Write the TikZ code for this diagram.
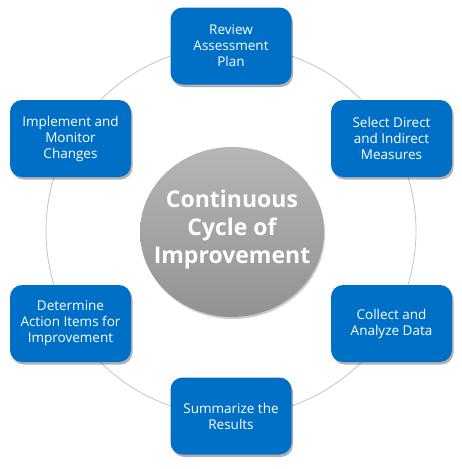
\documentclass[tikz,border=0pt]{standalone}
\usepackage{fontspec}
\setmainfont{Open Sans}
\usetikzlibrary{shadows}

\definecolor{kasten}{RGB}{0,112,198}
\definecolor{mitteoben}{RGB}{182,182,182}
\definecolor{mitteunten}{RGB}{146,146,146}
\definecolor{ring}{RGB}{196,196,196}

\begin{document}
\begin{tikzpicture}[x=1pt, y=-1pt, thin]

\tikzset{
schritt/.style={fill=kasten, rounded corners=12pt, minimum width=121pt, minimum height=77pt,
  text=white, align=center, inner sep=2pt, font=\fontsize{13.5}{16}\selectfont,
  drop shadow={shadow xshift=1.5pt, shadow yshift=-2.5pt, fill=black, opacity=0.3}},
kreis/.style={top color=mitteoben, bottom color=mitteunten,
  drop shadow={shadow xshift=1pt, shadow yshift=-2pt, fill=black, opacity=0.2}},
titel/.style={text=white, align=center, font=\bfseries\fontsize{23}{28}\selectfont},
bahn/.style={draw=ring, line width=0.8pt}
}

\useasboundingbox (0,0) rectangle (462,469);

% Ring hinter den Kaesten
\coordinate (zentrum) at (231,231);
\draw[bahn] (zentrum) circle (185);

% Mitte
\path[kreis] (232,232) ellipse (92 and 85);
\node[titel] (mitte) at (232,230) {Continuous\\Cycle of\\Improvement};

% Schritte
\node[schritt] (review) at (231,46) {Review\\Assessment\\Plan};
\node[schritt] (select) at (391.5,138.5) {Select Direct\\and Indirect\\Measures};
\node[schritt] (collect) at (391.5,323.5) {Collect and\\Analyze Data};
\node[schritt] (summarize) at (231,416) {Summarize the\\Results};
\node[schritt] (determine) at (70.5,323.5) {Determine\\Action Items for\\Improvement};
\node[schritt] (implement) at (70.5,138.5) {Implement and\\Monitor\\Changes};

\end{tikzpicture}
\end{document}
